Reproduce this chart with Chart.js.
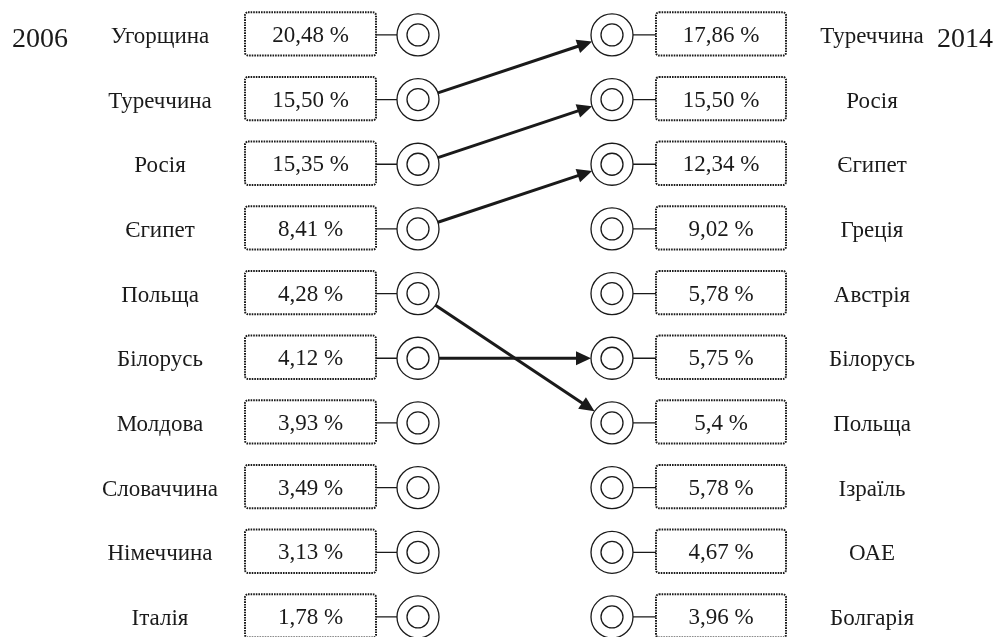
<!DOCTYPE html>
<html>
<head>
<meta charset="utf-8">
<script src="https://cdn.jsdelivr.net/npm/chart.js@4/dist/chart.umd.min.js"></script>
<style>
  body { margin: 0; background: #fff; }
  #wrap { width: 1000px; height: 637px; }
</style>
</head>
<body>
<div id="wrap"><canvas id="grafik"></canvas></div>
<script>
// дані: частки країн у виїзному туризмі
const roky = ["2006", "2014"];
const krainy2006 = ["Угорщина", "Туреччина", "Росія", "Єгипет", "Польща", "Білорусь", "Молдова", "Словаччина", "Німеччина", "Італія"];
const chastky2006 = ["20,48", "15,50", "15,35", "8,41", "4,28", "4,12", "3,93", "3,49", "3,13", "1,78"];
const krainy2014 = ["Туреччина", "Росія", "Єгипет", "Греція", "Австрія", "Білорусь", "Польща", "Ізраїль", "ОАЕ", "Болгарія"];
const chastky2014 = ["17,86", "15,50", "12,34", "9,02", "5,78", "5,75", "5,4", "5,78", "4,67", "3,96"];

// колонки на осі x (0..1000)
const kol = {
    rik1: 40, nazva1: 160, box1L: 245, box1R: 376, kolo1: 418,
    kolo2: 612, box2L: 656, box2R: 786, nazva2: 872, rik2: 965
};
const R_OUT = 21, R_IN = 11;
const ryadky = krainy2006.map((_, i) => i);

// стрілки: країна, яка є в обох списках
let strilky = [];
krainy2006.forEach((k, i) => {
    let j = krainy2014.indexOf(k);
    if (j >= 0) strilky.push([i, j]);
});

function tochky(x) {
    return ryadky.map(i => ({ x: x, y: i }));
}

const malyuvannya = {
    id: "malyuvannya",
    afterDatasetsDraw(chart) {
        let ctx = chart.ctx;
        let sx = chart.scales.x, sy = chart.scales.y;
        let px = v => sx.getPixelForValue(v);
        let py = v => sy.getPixelForValue(v);
        let krok = Math.abs(py(1) - py(0));
        let h = krok * 0.67;
        ctx.save();
        ctx.fillStyle = "#1a1a1a";
        ctx.strokeStyle = "#1a1a1a";
        ctx.textAlign = "center";
        ctx.textBaseline = "middle";

        ryadky.forEach(i => {
            let y = py(i);
            // з'єднувачі
            ctx.setLineDash([]);
            ctx.lineWidth = 1.3;
            ctx.beginPath();
            ctx.moveTo(px(kol.box1R), y); ctx.lineTo(px(kol.kolo1) - R_OUT, y);
            ctx.moveTo(px(kol.kolo2) + R_OUT, y); ctx.lineTo(px(kol.box2L), y);
            ctx.stroke();
            // пунктирні рамки
            ctx.setLineDash([1.6, 1]);
            ctx.lineWidth = 2;
            ctx.beginPath();
            ctx.roundRect(px(kol.box1L), y - h / 2 - 1, px(kol.box1R) - px(kol.box1L), h, 3);
            ctx.roundRect(px(kol.box2L), y - h / 2 - 1, px(kol.box2R) - px(kol.box2L), h, 3);
            ctx.stroke();
            // тексти
            ctx.font = "23px 'Liberation Serif', 'Times New Roman', serif";
            ctx.fillText(krainy2006[i], px(kol.nazva1), y + 2);
            ctx.fillText(krainy2014[i], px(kol.nazva2), y + 2);
            ctx.fillText(chastky2006[i] + " %", (px(kol.box1L) + px(kol.box1R)) / 2, y + 1);
            ctx.fillText(chastky2014[i] + " %", (px(kol.box2L) + px(kol.box2R)) / 2, y + 1);
        });

        ctx.setLineDash([]);
        ctx.font = "28px 'Liberation Serif', 'Times New Roman', serif";
        ctx.fillText(roky[0], px(kol.rik1), py(0) + 5);
        ctx.fillText(roky[1], px(kol.rik2), py(0) + 5);

        // стрілки
        strilky.forEach(([a, b]) => {
            let x1 = px(kol.kolo1), y1 = py(a);
            let x2 = px(kol.kolo2), y2 = py(b);
            let d = Math.hypot(x2 - x1, y2 - y1);
            let ux = (x2 - x1) / d, uy = (y2 - y1) / d;
            let sxp = x1 + ux * R_OUT, syp = y1 + uy * R_OUT;
            let tx = x2 - ux * R_OUT, ty = y2 - uy * R_OUT;
            let dl = 15, dw = 7;
            let bx = tx - ux * dl, by = ty - uy * dl;
            ctx.lineWidth = 3;
            ctx.beginPath();
            ctx.moveTo(sxp, syp); ctx.lineTo(bx + ux, by + uy);
            ctx.stroke();
            ctx.beginPath();
            ctx.moveTo(tx, ty);
            ctx.lineTo(bx - uy * dw, by + ux * dw);
            ctx.lineTo(bx + uy * dw, by - ux * dw);
            ctx.closePath();
            ctx.fill();
        });
        ctx.restore();
    }
};

function koloDataset(x, r) {
    return {
        data: tochky(x),
        pointRadius: r,
        pointHoverRadius: r,
        pointBorderWidth: 1.3,
        pointBorderColor: "#1a1a1a",
        pointBackgroundColor: "#fff",
        showLine: false
    };
}

// внутрішні кола першими, щоб лежали зверху
new Chart(document.getElementById("grafik"), {
    type: "scatter",
    data: {
        datasets: [
            koloDataset(kol.kolo1, R_IN),
            koloDataset(kol.kolo2, R_IN),
            koloDataset(kol.kolo1, R_OUT),
            koloDataset(kol.kolo2, R_OUT)
        ]
    },
    options: {
        responsive: true,
        maintainAspectRatio: false,
        animation: false,
        clip: false,
        layout: { padding: 0, autoPadding: false },
        plugins: { legend: { display: false }, tooltip: { enabled: false } },
        scales: {
            x: { type: "linear", min: 0, max: 1000, display: false },
            y: { type: "linear", min: -0.54, max: 9.31, reverse: true, display: false }
        }
    },
    plugins: [malyuvannya]
});
</script>
</body>
</html>
